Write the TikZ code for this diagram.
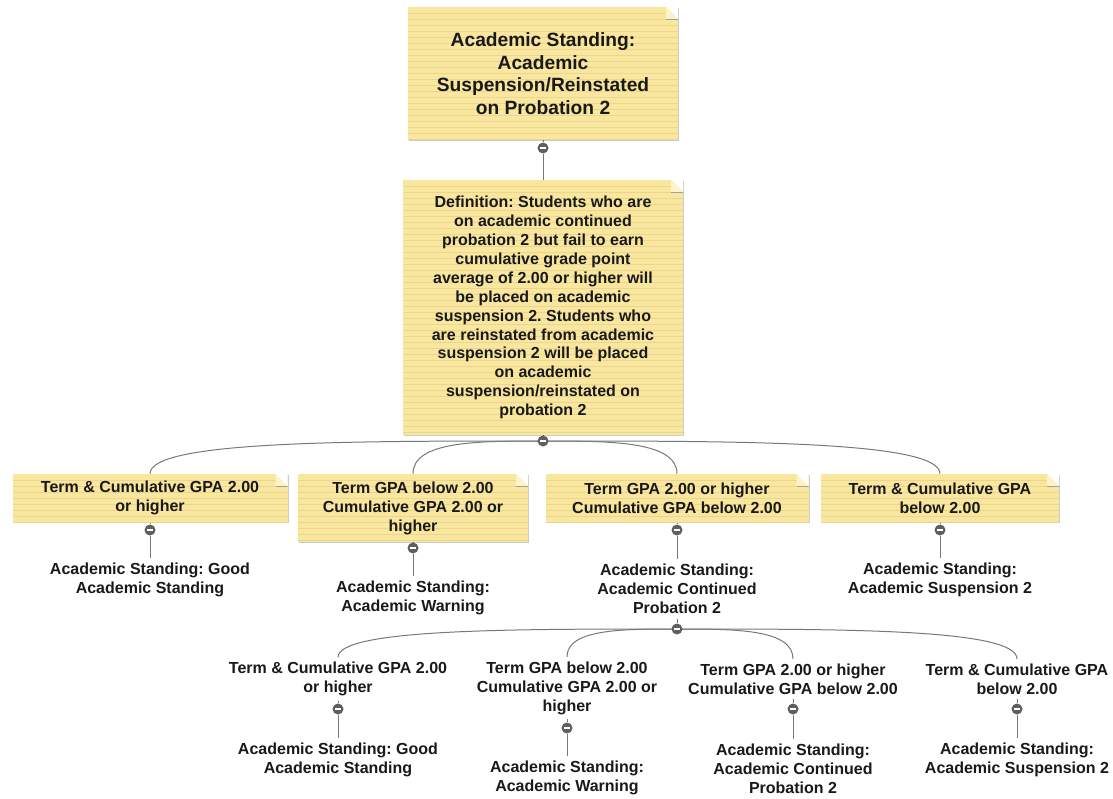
\documentclass[tikz,border=0pt]{standalone}
\usepackage{fontspec}
\setmainfont{Liberation Sans}
\usetikzlibrary{calc,shadows,backgrounds}
\definecolor{notefill}{RGB}{249,231,160}
\definecolor{noteline}{RGB}{235,214,142}
\definecolor{notefold}{RGB}{253,243,200}
\definecolor{knobgrey}{RGB}{95,95,95}
\definecolor{wiregrey}{RGB}{120,120,120}
\definecolor{ink}{RGB}{25,25,25}
\frenchspacing

\begin{document}
\begin{tikzpicture}
  [x=0.75pt,y=-0.75pt,
   every node/.style={text=ink,align=center,font=\bfseries\fontsize{12}{14.2}\selectfont},
   note/.style={fill=notefill,inner sep=0pt,
     drop shadow={shadow xshift=1pt,shadow yshift=-1pt,fill=black,opacity=.2},
     path picture={
       \foreach \k in {1,...,50}
         \draw[noteline,line width=.6pt] ([yshift=-\k*4.5pt]path picture bounding box.north west) -- ([yshift=-\k*4.5pt]path picture bounding box.north east);
       \fill[white] ([xshift=-9pt]path picture bounding box.north east) -- (path picture bounding box.north east) -- ([yshift=-9pt]path picture bounding box.north east) -- cycle;
       \fill[notefold] ([xshift=-9pt]path picture bounding box.north east) -- ([xshift=-9pt,yshift=-9pt]path picture bounding box.north east) -- ([yshift=-9pt]path picture bounding box.north east) -- cycle;
       \draw[wiregrey!70,line width=.6pt] ([xshift=-9pt,yshift=-9pt]path picture bounding box.north east) -- ([yshift=-9pt]path picture bounding box.north east);
     }},
   knob/.style={circle,fill=knobgrey,inner sep=0pt,minimum size=8.25pt,
     path picture={\draw[white,line width=1.2pt] ([xshift=-2pt]path picture bounding box.center) -- ([xshift=2pt]path picture bounding box.center);}},
   wire/.style={draw=wiregrey,line width=.75pt}]
  \useasboundingbox (0,0) rectangle (1113,799);

  \node[note,minimum width=202.5pt,minimum height=99.75pt,font=\bfseries\fontsize{14.4}{17}\selectfont] (top) at (543,73.5)
    {Academic Standing:\\Academic\\Suspension/Reinstated\\on Probation 2};
  \node[knob] (a0) at (543,148) {};
  \node[note,minimum width=210pt,minimum height=191.25pt] (def) at (543,307.5)
    {Definition: Students who are\\on academic continued\\probation 2 but fail to earn\\cumulative grade point\\average of 2.00 or higher will\\be placed on academic\\suspension 2. Students who\\are reinstated from academic\\suspension 2 will be placed\\on academic\\suspension/reinstated on\\probation 2};
  \node[knob] (t0) at (543,441) {};

  \node[note,minimum width=206.25pt,minimum height=36pt] (b1) at (150,498) {Term \& Cumulative GPA 2.00\\or higher};
  \node[note,minimum width=172.5pt,minimum height=51pt] (b2) at (413,508) {Term GPA below 2.00\\Cumulative GPA 2.00 or\\higher};
  \node[note,minimum width=197.25pt,minimum height=36pt] (b3) at (677,498) {Term GPA 2.00 or higher\\Cumulative GPA below 2.00};
  \node[note,minimum width=178.5pt,minimum height=36pt] (b4) at (940,498) {Term \& Cumulative GPA\\below 2.00};

  \node[knob] (c1) at (150,530) {};
  \node[knob] (c2) at (413,548) {};
  \node[knob] (c3) at (677,530) {};
  \node[knob] (c4) at (940,530) {};

  \node (g1) at (150,580) {Academic Standing: Good\\Academic Standing};
  \node (g2) at (413,598) {Academic Standing:\\Academic Warning};
  \node (g3) at (677,589) {Academic Standing:\\Academic Continued\\Probation 2};
  \node (g4) at (940,580) {Academic Standing:\\Academic Suspension 2};
  \node[knob] (t1) at (677,629) {};

  \node (h1) at (338,679) {Term \& Cumulative GPA 2.00\\or higher};
  \node (h2) at (567,688) {Term GPA below 2.00\\Cumulative GPA 2.00 or\\higher};
  \node (h3) at (793,679) {Term GPA 2.00 or higher\\Cumulative GPA below 2.00};
  \node (h4) at (1017,679) {Term \& Cumulative GPA\\below 2.00};

  \node[knob] (d1) at (338,709) {};
  \node[knob] (d2) at (567,728) {};
  \node[knob] (d3) at (793,709) {};
  \node[knob] (d4) at (1017,709) {};

  \node (k1) at (338,760) {Academic Standing: Good\\Academic Standing};
  \node (k2) at (567,778) {Academic Standing:\\Academic Warning};
  \node (k3) at (793,769) {Academic Standing:\\Academic Continued\\Probation 2};
  \node (k4) at (1017,760) {Academic Standing:\\Academic Suspension 2};

  \begin{scope}[on background layer]
    \foreach \from/\to in {top/a0,a0/def,def/t0,b1/c1,c1/g1,b2/c2,c2/g2,b3/c3,c3/g3,g3/t1,b4/c4,c4/g4,
                           h1/d1,d1/k1,h2/d2,d2/k2,h3/d3,d3/k3,h4/d4,d4/k4}
      \draw[wire] (\from) -- (\to);
    \foreach \to in {b1,b2,b3,b4}
      \draw[wire] (t0.center) .. controls ($(t0.center)!.5!(\to.north |- t0.center)$) and (\to.north |- t0.center) .. (\to.north);
    \foreach \to in {h1,h2,h3,h4}
      \draw[wire] (t1.center) .. controls ($(t1.center)!.5!(\to.north |- t1.center)$) and (\to.north |- t1.center) .. (\to.north);
  \end{scope}
\end{tikzpicture}
\end{document}
